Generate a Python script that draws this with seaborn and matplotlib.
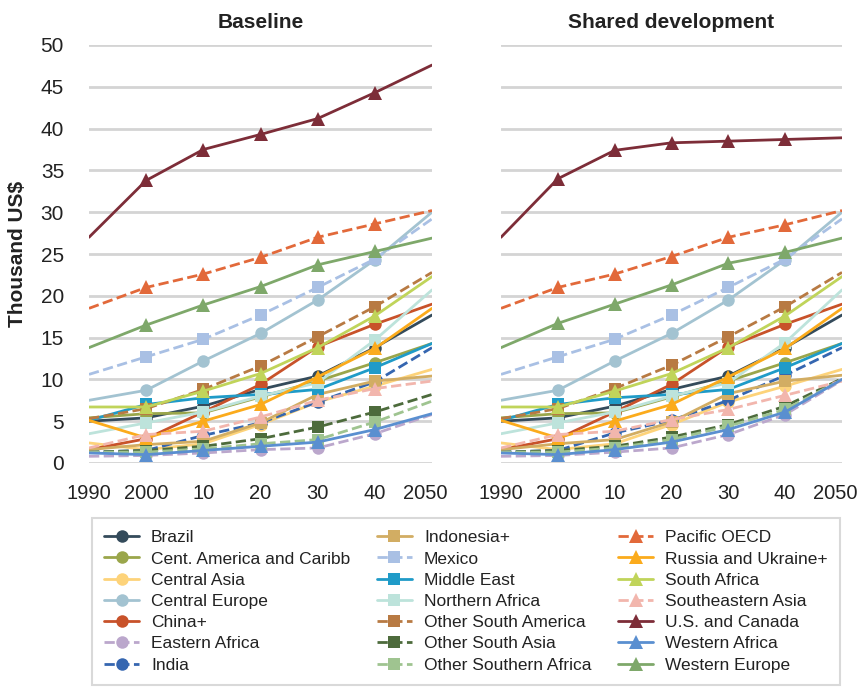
import matplotlib
matplotlib.use('Agg')
import matplotlib.pyplot as plt
import matplotlib.transforms as mtransforms
import seaborn as sns

sns.set_theme(style='white')
plt.rcParams['font.family'] = ['Liberation Sans', 'DejaVu Sans']

# x axis: decades 1990..2050
years = [1990, 2000, 2010, 2020, 2030, 2040, 2050]
year_labels = ['1990', '2000', '10', '20', '30', '40', '2050']
panels = ['Baseline', 'Shared development']

regions = ['Brazil', 'Cent. America and Caribb', 'Central Asia', 'Central Europe',
           'China+', 'Eastern Africa', 'India', 'Indonesia+', 'Mexico', 'Middle East',
           'Northern Africa', 'Other South America', 'Other South Asia',
           'Other Southern Africa', 'Pacific OECD', 'Russia and Ukraine+', 'South Africa',
           'Southeastern Asia', 'U.S. and Canada', 'Western Africa', 'Western Europe']

# GDP per capita, thousand US$ - baseline scenario
baseline = {
    'Brazil':                   [5.0, 5.4, 6.8, 8.8, 10.4, 13.8, 17.7],
    'Cent. America and Caribb': [5.4, 5.9, 6.0, 7.9, 9.8, 12.0, 14.3],
    'Central Asia':             [2.4, 1.6, 2.3, 4.6, 7.3, 9.2, 11.2],
    'Central Europe':           [7.5, 8.7, 12.2, 15.5, 19.5, 24.3, 30.0],
    'China+':                   [1.6, 2.9, 6.1, 9.4, 13.9, 16.6, 19.0],
    'Eastern Africa':           [0.8, 0.9, 1.2, 1.6, 1.8, 3.5, 5.8],
    'India':                    [1.3, 1.5, 3.3, 4.8, 7.3, 9.7, 13.8],
    'Indonesia+':               [1.6, 2.2, 2.6, 4.8, 8.2, 9.8, 10.4],
    'Mexico':                   [10.6, 12.7, 14.8, 17.7, 21.0, 24.4, 29.2],
    'Middle East':              [5.1, 7.0, 7.8, 8.2, 8.8, 11.4, 14.3],
    'Northern Africa':          [3.5, 4.8, 6.1, 8.0, 9.6, 14.7, 20.7],
    'Other South America':      [5.3, 6.5, 8.8, 11.6, 15.1, 18.7, 22.8],
    'Other South Asia':         [1.3, 1.5, 2.0, 2.9, 4.3, 6.1, 8.2],
    'Other Southern Africa':    [1.3, 1.3, 1.7, 2.3, 2.8, 4.9, 7.4],
    'Pacific OECD':             [18.5, 21.0, 22.6, 24.6, 27.0, 28.6, 30.2],
    'Russia and Ukraine+':      [5.1, 3.0, 5.0, 7.0, 10.3, 13.7, 18.5],
    'South Africa':             [6.7, 6.7, 8.6, 10.7, 13.8, 17.6, 22.3],
    'Southeastern Asia':        [1.8, 3.4, 3.8, 5.5, 7.5, 8.9, 9.8],
    'U.S. and Canada':          [27.0, 33.8, 37.5, 39.3, 41.2, 44.3, 47.6],
    'Western Africa':           [1.2, 1.0, 1.5, 2.0, 2.5, 4.0, 5.9],
    'Western Europe':           [13.8, 16.5, 18.9, 21.1, 23.7, 25.3, 26.9],
}

# shared development scenario
shared = {
    'Brazil':                   [5.0, 5.4, 6.8, 8.8, 10.4, 13.8, 17.7],
    'Cent. America and Caribb': [5.4, 5.9, 6.0, 7.9, 9.8, 12.0, 14.3],
    'Central Asia':             [2.4, 1.6, 2.3, 4.6, 7.3, 9.2, 11.2],
    'Central Europe':           [7.5, 8.7, 12.2, 15.5, 19.5, 24.3, 30.0],
    'China+':                   [1.6, 2.9, 6.1, 9.4, 13.9, 16.6, 19.0],
    'Eastern Africa':           [0.8, 0.9, 1.3, 1.8, 3.4, 5.8, 9.9],
    'India':                    [1.3, 1.5, 3.6, 5.1, 7.5, 10.5, 13.8],
    'Indonesia+':               [1.6, 2.3, 2.8, 4.9, 8.3, 9.8, 10.5],
    'Mexico':                   [10.6, 12.7, 14.8, 17.7, 21.0, 24.4, 29.2],
    'Middle East':              [5.1, 7.0, 7.8, 8.2, 8.8, 11.4, 14.3],
    'Northern Africa':          [3.5, 4.8, 6.1, 8.0, 9.6, 14.4, 20.7],
    'Other South America':      [5.3, 6.5, 8.9, 11.7, 15.1, 18.7, 22.8],
    'Other South Asia':         [1.3, 1.5, 2.0, 3.1, 4.6, 6.8, 10.1],
    'Other Southern Africa':    [1.3, 1.3, 1.8, 2.8, 4.4, 6.4, 10.0],
    'Pacific OECD':             [18.5, 21.0, 22.6, 24.7, 27.0, 28.5, 30.2],
    'Russia and Ukraine+':      [5.1, 3.0, 5.0, 7.0, 10.3, 13.7, 18.5],
    'South Africa':             [6.7, 6.7, 8.6, 10.7, 13.8, 17.6, 22.3],
    'Southeastern Asia':        [1.8, 3.4, 3.8, 5.2, 6.4, 8.1, 9.8],
    'U.S. and Canada':          [27.0, 34.0, 37.4, 38.3, 38.5, 38.7, 38.9],
    'Western Africa':           [1.2, 1.0, 1.6, 2.5, 4.0, 6.1, 10.0],
    'Western Europe':           [13.8, 16.7, 19.0, 21.3, 23.9, 25.2, 26.9],
}

colors = ['#344b5b', '#9aa64b', '#fdd37a', '#a3c3d1', '#c8522a', '#bba7cc', '#3566b0',
          '#d2ad63', '#a9c0e4', '#1f9bc8', '#bde3db', '#b87a43', '#4d6b3c', '#9fc490',
          '#e2693a', '#fbab1c', '#c0d45a', '#f2b6ad', '#7d2d38', '#5a8fd0', '#7ea86a']
markers = ['o'] * 7 + ['s'] * 7 + ['^'] * 7
dashed = {'Eastern Africa', 'India', 'Mexico', 'Other South America', 'Other South Asia',
          'Other Southern Africa', 'Pacific OECD', 'Southeastern Asia'}

fig = plt.figure(figsize=(8.61, 6.93), dpi=100)
ax1 = fig.add_axes([89 / 861, 1 - 463 / 693, 343 / 861, 418 / 693])
ax2 = fig.add_axes([501 / 861, 1 - 463 / 693, 341 / 861, 418 / 693])

for ax, title, data in zip([ax1, ax2], panels, [baseline, shared]):
    for name, col, mk in zip(regions, colors, markers):
        sns.lineplot(x=years, y=data[name], ax=ax, color=col, marker=mk,
                     markevery=[1, 2, 3, 4, 5], markersize=10 if mk == '^' else 9,
                     markeredgewidth=0, linewidth=2.0,
                     linestyle='--' if name in dashed else '-',
                     label=name, legend=False)
    ax.set_xlim(1990, 2050)
    ax.set_ylim(0, 50)
    ax.set_xticks(years)
    ax.set_xticklabels(year_labels)
    ax.set_yticks(range(0, 51, 5))
    ax.yaxis.grid(True, color='#d4d4d4', linewidth=2)
    ax.xaxis.grid(False)
    ax.set_axisbelow(True)
    for s in ax.spines.values():
        s.set_visible(False)
    ax.tick_params(axis='x', length=0, pad=15, labelsize=14.5, colors='#222222')
    ax.tick_params(axis='y', length=0, pad=18, labelsize=15, colors='#222222')
    ax.set_title(title, fontsize=15, fontweight='bold', pad=12, color='#222222')
    ax.set_xlabel('')
    ax.set_ylabel('')
    # the last year label sits a little left of the axis end
    last = ax.get_xticklabels()[-1]
    last.set_transform(last.get_transform() +
                       mtransforms.ScaledTranslation(-7 / 100, 0, fig.dpi_scale_trans))

ax2.set_yticklabels([])
fig.text(18 / 861, 1 - 254 / 693, 'Thousand US$', rotation=90, fontsize=15,
         fontweight='bold', ha='center', va='center', color='#222222')

handles, labels = ax1.get_legend_handles_labels()
leg = fig.legend(handles, labels, ncol=3, loc='upper left',
                 bbox_to_anchor=(92 / 861, 1 - 688 / 693, 748 / 861, 170 / 693),
                 mode='expand', fontsize=12.5, frameon=True, fancybox=False,
                 edgecolor='#d0d0d0', handlelength=2.0, handletextpad=0.7,
                 labelspacing=0.35, borderpad=0.7, borderaxespad=0)
leg.get_frame().set_linewidth(1.5)
for t in leg.get_texts():
    t.set_color('#222222')

fig.savefig('out.png', dpi=100)
